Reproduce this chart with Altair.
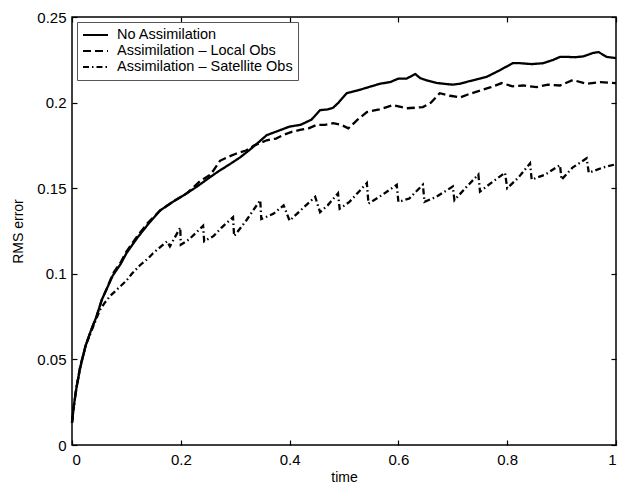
import altair as alt
import pandas as pd

FONT = "Liberation Sans"

series_names = ["No Assimilation", "Assimilation – Local Obs", "Assimilation – Satellite Obs"]

t_none = [0, 0.003, 0.008, 0.015, 0.025, 0.035, 0.045, 0.055, 0.065, 0.075, 0.09, 0.1, 0.12, 0.14, 0.162,
          0.185, 0.211, 0.23, 0.254, 0.27, 0.29, 0.309, 0.325, 0.34, 0.358, 0.375, 0.4, 0.42, 0.44, 0.456,
          0.47, 0.48, 0.49, 0.505, 0.524, 0.545, 0.566, 0.585, 0.6, 0.615, 0.631, 0.64, 0.652, 0.67, 0.689,
          0.7, 0.713, 0.73, 0.75, 0.762, 0.787, 0.81, 0.824, 0.845, 0.866, 0.885, 0.897, 0.91, 0.925, 0.94,
          0.958, 0.968, 0.983, 1.0]
v_none = [0.013, 0.022, 0.033, 0.045, 0.058, 0.067, 0.075, 0.085, 0.092, 0.099, 0.106, 0.112, 0.121, 0.129,
          0.137, 0.142, 0.147, 0.151, 0.1565, 0.160, 0.164, 0.168, 0.172, 0.176, 0.181, 0.183, 0.186, 0.187,
          0.190, 0.1956, 0.196, 0.197, 0.200, 0.2055, 0.207, 0.209, 0.211, 0.212, 0.214, 0.214, 0.2167,
          0.2143, 0.213, 0.2115, 0.2108, 0.2105, 0.211, 0.2125, 0.214, 0.215, 0.219, 0.223, 0.223, 0.2225,
          0.223, 0.225, 0.2267, 0.2267, 0.2265, 0.227, 0.229, 0.2295, 0.2267, 0.226]

t_local = [0, 0.003, 0.008, 0.015, 0.025, 0.035, 0.045, 0.055, 0.065, 0.075, 0.09, 0.1, 0.12, 0.14, 0.162,
           0.185, 0.211, 0.235, 0.255, 0.272, 0.285, 0.3, 0.32, 0.335, 0.358, 0.375, 0.388, 0.405, 0.419,
           0.435, 0.45, 0.465, 0.48, 0.495, 0.508, 0.525, 0.542, 0.565, 0.59, 0.615, 0.63, 0.645, 0.66,
           0.676, 0.695, 0.713, 0.73, 0.75, 0.77, 0.79, 0.81, 0.83, 0.854, 0.875, 0.897, 0.921, 0.945,
           0.971, 1.0]
v_local = [0.013, 0.022, 0.033, 0.046, 0.058, 0.067, 0.075, 0.085, 0.092, 0.1, 0.107, 0.113, 0.122, 0.13,
           0.137, 0.142, 0.147, 0.154, 0.158, 0.166, 0.168, 0.170, 0.172, 0.175, 0.178, 0.179, 0.181, 0.183,
           0.184, 0.185, 0.187, 0.187, 0.188, 0.187, 0.185, 0.190, 0.1945, 0.196, 0.1985, 0.1967, 0.197,
           0.1974, 0.2, 0.2055, 0.204, 0.203, 0.205, 0.207, 0.209, 0.2114, 0.2095, 0.21, 0.209, 0.2105,
           0.210, 0.2132, 0.211, 0.212, 0.2114]

t_sat = [0, 0.003, 0.008, 0.015, 0.025, 0.035, 0.045, 0.051, 0.06, 0.07, 0.08, 0.09, 0.1, 0.11, 0.125,
         0.14, 0.149, 0.16, 0.175, 0.18, 0.199, 0.2, 0.215, 0.241, 0.243, 0.26, 0.275, 0.296, 0.298, 0.32,
         0.346, 0.348, 0.37, 0.389, 0.4, 0.42, 0.447, 0.456, 0.47, 0.489, 0.492, 0.51, 0.542, 0.545, 0.57,
         0.597, 0.6, 0.62, 0.645, 0.648, 0.67, 0.7, 0.703, 0.72, 0.747, 0.75, 0.77, 0.796, 0.8, 0.82, 0.842,
         0.845, 0.87, 0.897, 0.9, 0.92, 0.946, 0.95, 0.975, 1.0]
v_sat = [0.013, 0.022, 0.033, 0.045, 0.058, 0.066, 0.074, 0.0787, 0.083, 0.087, 0.09, 0.093, 0.096, 0.1,
         0.105, 0.109, 0.112, 0.115, 0.119, 0.116, 0.127, 0.117, 0.120, 0.128, 0.119, 0.122, 0.127, 0.133,
         0.122, 0.131, 0.143, 0.132, 0.135, 0.140, 0.131, 0.137, 0.145, 0.136, 0.140, 0.147, 0.138, 0.142,
         0.153, 0.141, 0.146, 0.152, 0.142, 0.144, 0.152, 0.142, 0.145, 0.151, 0.143, 0.149, 0.158, 0.148,
         0.153, 0.159, 0.150, 0.156, 0.1645, 0.155, 0.158, 0.1635, 0.155, 0.162, 0.1675, 0.159, 0.162, 0.164]

x_ticks = [0, 0.2, 0.4, 0.6, 0.8, 1.0]
y_ticks = [0, 0.05, 0.1, 0.15, 0.2, 0.25]

rows = []
for name, ts, vs in zip(series_names, [t_none, t_local, t_sat], [v_none, v_local, v_sat]):
    for i, (t, v) in enumerate(zip(ts, vs)):
        rows.append({"time": t, "rms": v, "series": name, "order": i})
df = pd.DataFrame(rows)

xscale = alt.Scale(domain=[0, 1], nice=False, zero=False)
yscale = alt.Scale(domain=[0, 0.25], nice=False, zero=False)

TICK = 5
common = dict(labelFont=FONT, titleFont=FONT, labelFontSize=15, titleFontSize=14, labelColor="black",
              titleColor="black", titleFontWeight="normal", tickColor="black", tickWidth=1.2,
              domain=False, grid=False, offset=-TICK, tickSize=TICK)

main = alt.Chart(df).mark_line(color="black", strokeWidth=2.3).encode(
    x=alt.X("time:Q", scale=xscale, title="time",
            axis=alt.Axis(orient="bottom", values=x_ticks, format="~g", labelPadding=7, titlePadding=3,
                          **common)),
    y=alt.Y("rms:Q", scale=yscale, title="RMS error",
            axis=alt.Axis(orient="left", values=y_ticks, format="~g", labelPadding=6, titlePadding=11,
                          **common)),
    strokeDash=alt.StrokeDash(
        "series:N",
        scale=alt.Scale(domain=series_names, range=[[1, 0], [8, 4], [6, 3, 1.5, 3]]),
        legend=alt.Legend(title=None, orient="top-left", offset=5, symbolType="stroke", symbolSize=625,
                          symbolStrokeWidth=2, symbolStrokeColor="black", labelFontSize=14.5,
                          labelFont=FONT, labelColor="black", labelOffset=8, labelLimit=500, padding=5,
                          strokeColor="#555555", fillColor="white", rowPadding=0, clipHeight=16,
                          cornerRadius=0),
    ),
    order="order:Q",
    detail="series:N",
)

frame = alt.Chart(df).mark_line(opacity=0).encode(
    x=alt.X("time:Q", scale=xscale, title=None,
            axis=alt.Axis(orient="top", values=x_ticks, labels=False, **common)),
    y=alt.Y("rms:Q", scale=yscale, title=None,
            axis=alt.Axis(orient="right", values=y_ticks, labels=False, **common)),
    detail="series:N",
    order="order:Q",
)

chart = alt.layer(main, frame).resolve_axis(x="independent", y="independent").properties(
    width=544, height=428,
    autosize=alt.AutoSizeParams(type="none"),
    padding={"left": 72, "top": 17, "right": 7, "bottom": 39},
).configure_view(
    stroke="black", strokeWidth=1.5
)

chart.save("out.html", embed_options={"renderer": "svg", "actions": False})
